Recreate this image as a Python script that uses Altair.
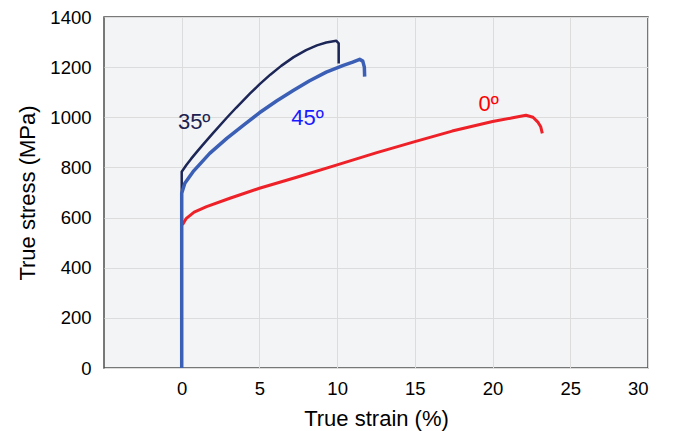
import altair as alt
import pandas as pd

# Series (strain in %, stress in MPa)
strain_35 = [0, 0, 0.3, 0.6, 1.0, 1.37, 2.0, 2.9, 3.5, 4.4, 5.0, 5.7, 6.4, 7.2, 8.0, 8.7, 9.3, 9.95, 10.1, 10.1]
stress_35 = [0, 783, 810, 834, 864, 891, 936, 998, 1038, 1095, 1131, 1170, 1205, 1240, 1268, 1287, 1298, 1305, 1295, 1215]

strain_0 = [0.05, 0.3, 0.8, 1.6, 3.1, 5.0, 7.4, 10.0, 12.5, 15.0, 17.4, 20.0, 21.3, 22.15, 22.6, 22.9, 23.1, 23.2]
stress_0 = [572, 597, 622, 644, 677, 717, 761, 810, 858, 903, 945, 983, 998, 1008, 1000, 982, 962, 936]

strain_45 = [0, 0, 0.2, 0.73, 1.2, 1.8, 2.9, 4.0, 5.0, 6.1, 7.2, 8.2, 9.3, 10.4, 11.0, 11.45, 11.65, 11.75, 11.77]
stress_45 = [0, 697, 737, 783, 815, 856, 916, 970, 1018, 1065, 1108, 1145, 1180, 1207, 1220, 1231, 1224, 1200, 1162]

series_names = ["35º", "0º", "45º"]
line_colors = ["#1c2657", "#ee2128", "#3b5fb4"]
line_widths = [2.5, 3.5, 3]

label_text = ["35º", "45º", "0º"]
label_x = [0.8, 8.1, 19.75]
label_y = [981, 997, 1053]
label_colors = ["#1b2150", "#1a1aff", "#ff0000"]

x_ticks = [0, 5, 10, 15, 20, 25, 30]
y_ticks = [0, 200, 400, 600, 800, 1000, 1200, 1400]

rows = []
for name, xs, ys in [("35º", strain_35, stress_35), ("0º", strain_0, stress_0), ("45º", strain_45, stress_45)]:
    for i, (a, b) in enumerate(zip(xs, ys)):
        rows.append({"series": name, "idx": i, "strain": a, "stress": b})
df = pd.DataFrame(rows)

labels = pd.DataFrame({"label": label_text, "strain": label_x, "stress": label_y})

FONT = "Liberation Sans"

x_enc = alt.X("strain:Q", scale=alt.Scale(domain=[-5, 30], nice=False, zero=False),
              axis=alt.Axis(values=x_ticks, format="d", title="True strain (%)", labelFontSize=18.5,
                            titleFontSize=22, labelPadding=11, titlePadding=11,
                            titleFontWeight="normal", labelColor="#000", titleColor="#000"))
y_enc = alt.Y("stress:Q", scale=alt.Scale(domain=[0, 1400], nice=False),
              axis=alt.Axis(values=y_ticks, format="d", title="True stress (MPa)", labelFontSize=18.5,
                            titleFontSize=22, labelPadding=13, titlePadding=10,
                            titleFontWeight="normal", labelColor="#000", titleColor="#000"))

lines = alt.Chart(df).mark_line(strokeJoin="round", strokeCap="butt").encode(
    x=x_enc,
    y=y_enc,
    color=alt.Color("series:N", scale=alt.Scale(domain=series_names, range=line_colors), legend=None),
    strokeWidth=alt.StrokeWidth("series:N", scale=alt.Scale(domain=series_names, range=line_widths), legend=None),
    order=alt.Order("idx:Q"),
)

text = alt.Chart(labels).mark_text(font=FONT, fontSize=22, align="center", baseline="middle").encode(
    x="strain:Q",
    y="stress:Q",
    text="label:N",
    color=alt.Color("label:N", scale=alt.Scale(domain=label_text, range=label_colors), legend=None),
)

chart = alt.layer(lines, text).resolve_scale(color="independent", strokeWidth="independent").properties(
    width=544, height=351,
    autosize=alt.AutoSizeParams(type="none"),
    padding={"left": 96, "top": 9, "right": 17, "bottom": 75},
    background="white",
).configure_view(
    fill="#f3f4f6", stroke="#4d4d4d", strokeWidth=1.5
).configure_axis(
    grid=True, gridColor="#dcdcdc", gridWidth=1, domain=False, ticks=False,
    labelFont=FONT, titleFont=FONT,
)

chart.save("out.html", embed_options={"renderer": "svg", "actions": False})
